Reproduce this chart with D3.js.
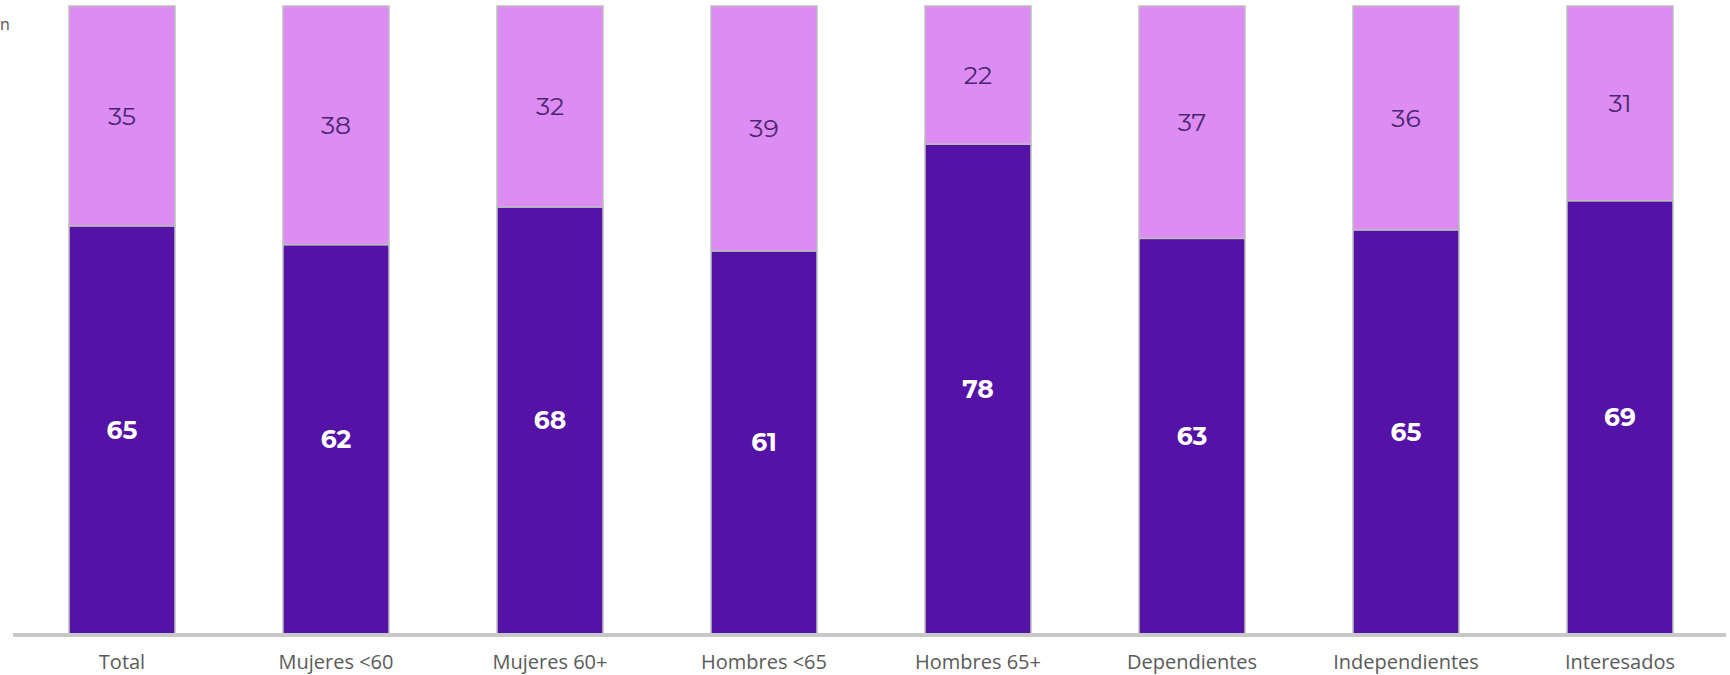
<!DOCTYPE html>
<html><head><meta charset="utf-8">
<script src="https://cdn.jsdelivr.net/npm/d3@7"></script>
<style>body{margin:0;background:#fff}svg{display:block}</style>
</head><body>
<svg id="c" width="1730" height="675"></svg>
<script>
const categories = ["Total","Mujeres <60","Mujeres 60+","Hombres <65","Hombres 65+","Dependientes","Independientes","Interesados"];
const seriesLow = [65,62,68,61,78,63,65,69];
const seriesHigh = [35,38,32,39,22,37,36,31];
const seriesKeys = ["low","high"];

const data = categories.map((c,i)=>({cat:c, low:seriesLow[i], high:seriesHigh[i]}));
const svg = d3.select("#c");
const x = d3.scaleBand().domain(categories).range([15,1727]).paddingInner(0.505).paddingOuter(0.2525);
const y = d3.scaleLinear().domain([0,1]).range([634,6]);
const stack = d3.stack().keys(seriesKeys).offset(d3.stackOffsetExpand);
const layers = stack(data);
const fills = {low:"#5512a6", high:"#dc8cf2"};

svg.append("text").attr("x",0).attr("y",30).attr("font-family","Open Sans").attr("font-size",16).attr("fill","#555").text("n");

const g = svg.append("g");
layers.forEach(layer=>{
  g.selectAll(null).data(layer).join("rect")
    .attr("x",d=>x(d.data.cat)).attr("width",x.bandwidth())
    .attr("y",d=>y(d[1])).attr("height",d=>y(d[0])-y(d[1]))
    .attr("fill",fills[layer.key]).attr("stroke","#bdbdbd").attr("stroke-width",1.5);
});
layers.forEach(layer=>{
  g.selectAll(null).data(layer).join("text")
    .attr("x",d=>x(d.data.cat)+x.bandwidth()/2)
    .attr("y",d=>(y(d[0])+y(d[1]))/2)
    .attr("dy","0.35em").attr("text-anchor","middle")
    .attr("font-family","Montserrat, 'Open Sans', sans-serif")
    .attr("font-size",25)
    .attr("font-weight",layer.key==="low"?700:400)
    .attr("fill",layer.key==="low"?"#ffffff":"#4a2570")
    .text(d=>d.data[layer.key]);
});

svg.append("line").attr("x1",13).attr("x2",1726).attr("y1",635).attr("y2",635).attr("stroke","#c8c8c8").attr("stroke-width",4);

const xAxis = d3.axisBottom(x).tickSize(0).tickPadding(0);
const ax = svg.append("g").attr("transform","translate(0,655)").call(xAxis);
ax.select(".domain").remove();
ax.selectAll("text").attr("font-family","'Open Sans', sans-serif").attr("font-size",20).attr("fill","#5a5a5a").attr("dy","0.71em");
</script>
</body></html>
